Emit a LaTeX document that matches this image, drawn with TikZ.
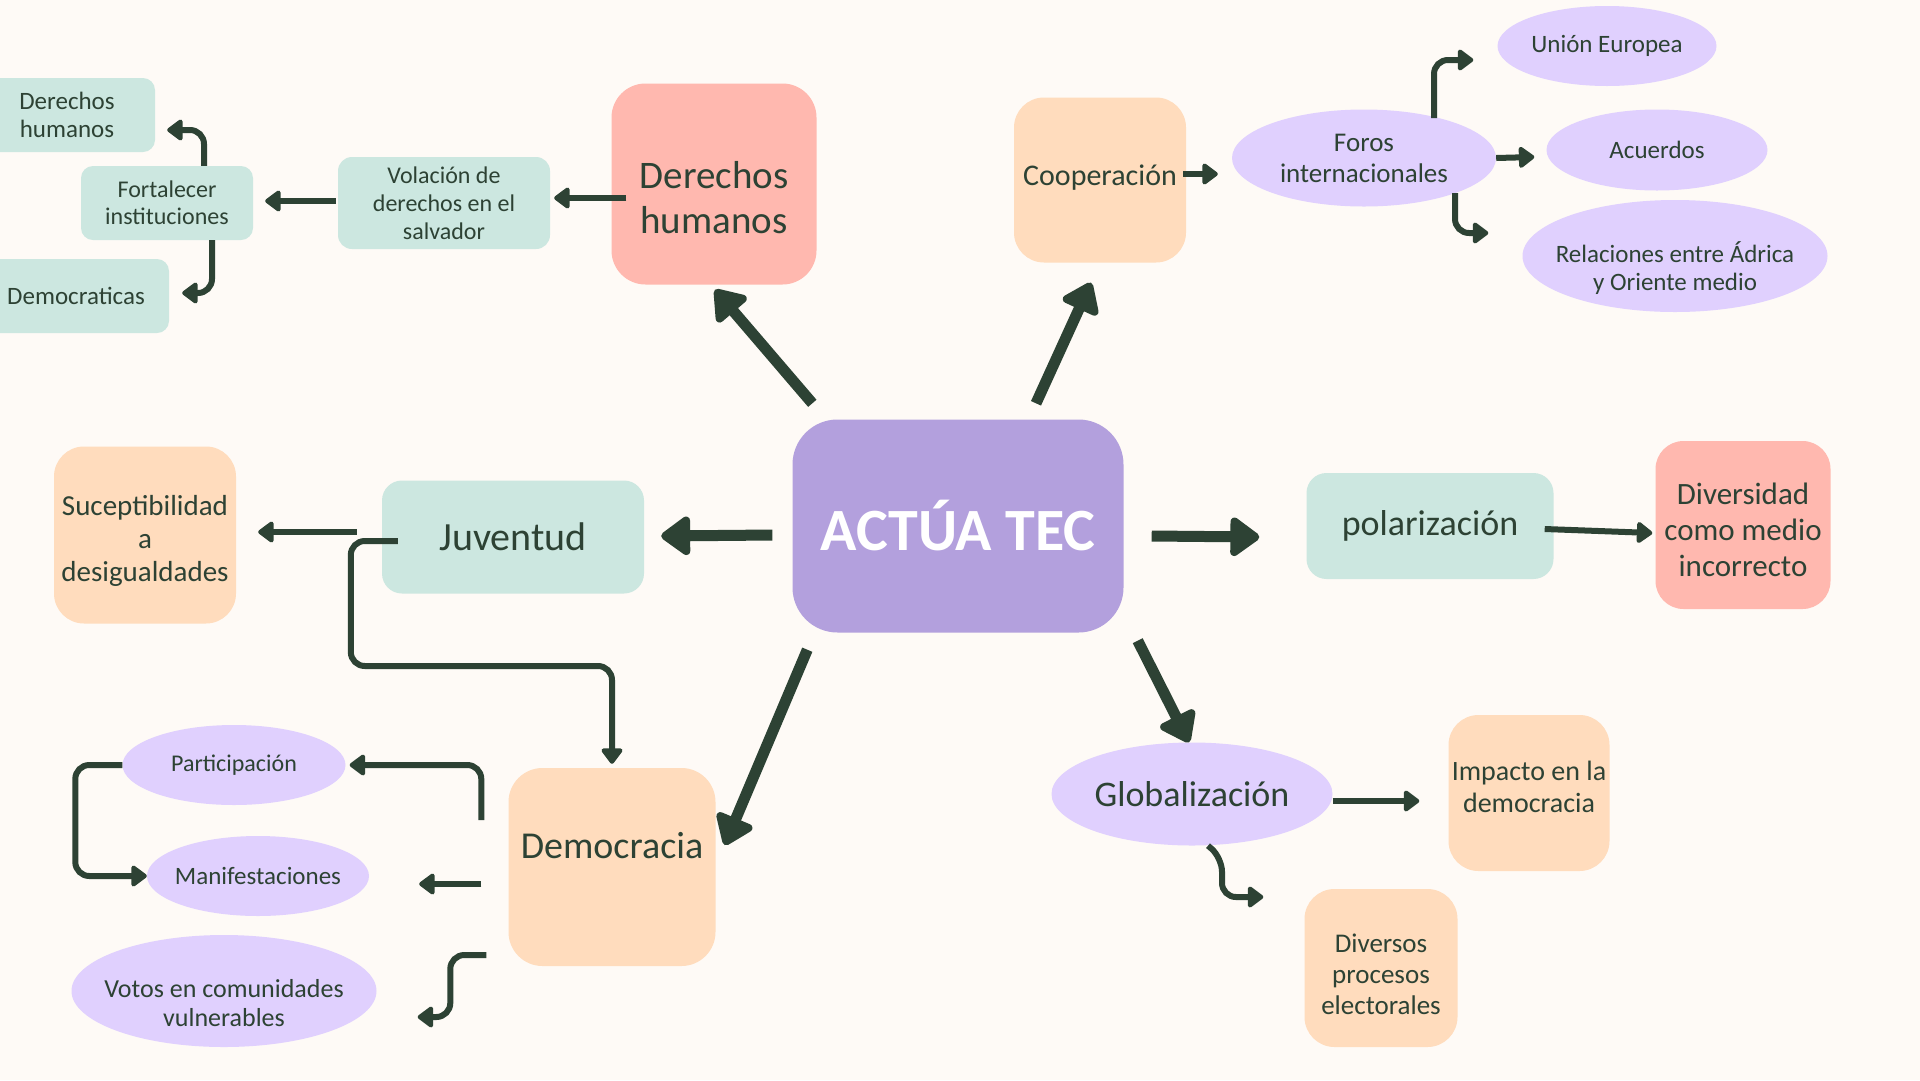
\documentclass[tikz,border=0pt]{standalone}
\usepackage{fontspec}
\setmainfont{Carlito}
\usepackage{xcolor}
\usetikzlibrary{arrows.meta,positioning,calc,shapes.geometric}

\definecolor{bgcream}{HTML}{FEFAF6}
\definecolor{ink}{HTML}{2D4234}
\definecolor{centrepurple}{HTML}{B3A0DD}
\definecolor{lilac}{HTML}{E0D0FE}
\definecolor{salmon}{HTML}{FFB8AF}
\definecolor{peach}{HTML}{FFDCBD}
\definecolor{mint}{HTML}{CCE7E0}

\begin{document}
\begin{tikzpicture}[x=1pt,y=-1pt,
    box/.style={rectangle, rounded corners=26pt, inner sep=0pt, align=center, text=ink},
    blob/.style={ellipse, fill=lilac, inner sep=0pt},
    blobtext/.style={text=ink, align=center},
    txt/.style 2 args={font=\fontsize{#1pt}{#2pt}\selectfont},
    spoke/.style={draw=ink, line width=11pt, -{Triangle[length=32pt,width=44pt,round]}},
    link/.style={draw=ink, line width=6pt, rounded corners=14pt, -{Triangle[length=17pt,width=24pt,round]}}]
    \useasboundingbox (0,0) rectangle (1920,1080);
    \fill[bgcream] (0,0) rectangle (1920,1080);

    % Centre
    \node[box, fill=centrepurple, rounded corners=45pt, minimum width=331pt, minimum height=213pt,
          text=white, txt={60}{66}] (actua) at (958,526) {\bfseries ACTÚA TEC};

    % Derechos humanos
    \node[box, fill=salmon, rounded corners=34pt, minimum width=205pt, minimum height=201pt,
          label={[blobtext, txt={39}{45}, yshift=-14pt]center:Derechos\\humanos}] (derechos) at (714,184) {};
    \node[box, fill=mint, rounded corners=14pt, minimum width=212pt, minimum height=92pt, txt={24}{28}]
        (violacion) at (444,203) {Volación de\\derechos en el\\salvador};
    \node[box, fill=mint, rounded corners=12pt, minimum width=172pt, minimum height=74pt, txt={24}{27}]
        (fortalecer) at (167,203) {Fortalecer\\instituciones};
    \node[box, fill=mint, rounded corners=12pt, minimum width=176pt, minimum height=74pt, txt={25}{28}]
        (dhsmall) at (67,115) {Derechos\\humanos};
    \node[box, fill=mint, rounded corners=12pt, minimum width=186pt, minimum height=74pt, txt={25}{28}]
        (democraticas) at (76,296) {Democraticas};

    % Cooperacion
    \node[box, fill=peach, rounded corners=30pt, minimum width=172pt, minimum height=165pt, txt={30}{34}]
        (cooperacion) at (1100,180) {\raisebox{10pt}{Cooperación}};
    \node[blob, minimum width=264pt, minimum height=97pt,
          label={[blobtext, txt={27}{31}]center:Foros\\internacionales}] (foros) at (1364,158) {};
    \node[blob, minimum width=219pt, minimum height=80pt,
          label={[blobtext, txt={25}{28}]center:Unión Europea}] (union) at (1607,46) {};
    \node[blob, minimum width=221pt, minimum height=81pt,
          label={[blobtext, txt={25}{28}]center:Acuerdos}] (acuerdos) at (1657,150) {};
    \node[blob, minimum width=305pt, minimum height=112pt,
          label={[blobtext, txt={25}{28}, yshift=-12pt]center:Relaciones entre Ádrica\\y Oriente medio}] (relaciones) at (1675,256) {};

    % Juventud
    \node[box, fill=mint, rounded corners=20pt, minimum width=262pt, minimum height=113pt, txt={40}{44}]
        (juventud) at (513,537) {Juventud};
    \node[box, fill=peach, rounded corners=30pt, minimum width=182pt, minimum height=177pt,
          label={[blobtext, txt={29}{33}, yshift=-6pt]center:Suceptibilidad\\a\\desigualdades}] (suceptibilidad) at (145,535) {};

    % Democracia
    \node[box, fill=peach, rounded corners=34pt, minimum width=207pt, minimum height=198pt, txt={38}{42}]
        (democracia) at (612,867) {\raisebox{44pt}{Democracia}};
    \node[blob, minimum width=223pt, minimum height=80pt,
          label={[blobtext, txt={24}{28}]center:Participación}] (participacion) at (234,765) {};
    \node[blob, minimum width=222pt, minimum height=80pt,
          label={[blobtext, txt={25}{28}]center:Manifestaciones}] (manifestaciones) at (258,876) {};
    \node[blob, minimum width=305pt, minimum height=112pt,
          label={[blobtext, txt={26}{29}, yshift=-12pt]center:Votos en comunidades\\vulnerables}] (votos) at (224,991) {};

    % Polarizacion
    \node[box, fill=mint, rounded corners=20pt, minimum width=247pt, minimum height=106pt, txt={36}{40}]
        (polarizacion) at (1430,526) {polarización};
    \node[box, fill=salmon, rounded corners=28pt, minimum width=175pt, minimum height=168pt,
          label={[blobtext, txt={31}{36}, yshift=-5pt]center:Diversidad\\como medio\\incorrecto}] (diversidad) at (1743,525) {};

    % Globalizacion
    \node[blob, minimum width=281pt, minimum height=103pt,
          label={[blobtext, txt={36}{40}]center:Globalización}] (globalizacion) at (1192,794) {};
    \node[box, fill=peach, rounded corners=30pt, minimum width=161pt, minimum height=156pt,
          label={[blobtext, txt={28}{32}, yshift=6pt]center:Impacto en la\\democracia}] (impacto) at (1529,793) {};
    \node[box, fill=peach, rounded corners=30pt, minimum width=153pt, minimum height=158pt,
          label={[blobtext, txt={27}{31}, yshift=-6pt]center:Diversos\\procesos\\electorales}] (diversos) at (1381,968) {};

    % Spokes from the centre
    \draw[spoke] ($(actua.north west)+(20,-16)$) -- ($(derechos.south)+(1,5)$);
    \draw[spoke] ($(actua.north)+(78,-16)$) -- ($(cooperacion.south)+(-9,20)$);
    \draw[spoke] ($(actua.west)+(-20,9)$) -- ($(juventud.east)+(17,-1)$);
    \draw[spoke] ($(actua.east)+(28,10)$) -- ($(polarizacion.west)+(-47,11)$);
    \draw[spoke] ($(actua.south west)+(15,17)$) -- ($(democracia.east)+(9,-22)$);
    \draw[spoke] ($(actua.south east)+(14,8)$) -- ($(globalizacion.north)+(-3,0)$);

    % Branch links
    \draw[link] ($(derechos.west)+(15,14)$) -- ($(violacion.east)+(4,-5)$);
    \draw[link] ($(violacion.west)+(-2,-2)$) -- ($(fortalecer.east)+(12,-2)$);
    \draw[link] ($(fortalecer.north)+(37,0)$) |- ($(dhsmall.east)+(12,15)$);
    \draw[link] ($(fortalecer.south)+(45,0)$) |- ($(democraticas.east)+(13,-3)$);
    \draw[link] ($(cooperacion.east)+(-3,-6)$) -- ($(foros.west)+(-14,16)$);
    \draw[link] ($(foros.center)+(70,-40)$) |- ($(union.west)+(-24,14)$);
    \draw[link] (foros.east) -- ($(acuerdos.west)+(-12,7)$);
    \draw[link] ($(foros.center)+(91,35)$) |- ($(relaciones.west)+(-34,-23)$);
    \draw[link] ($(juventud.west)+(-25,-5)$) -- ($(suceptibilidad.east)+(22,-3)$);
    \draw[link] ($(juventud.west)+(16,4)$) -- ++(-47,0) -- ++(0,125) -| ($(democracia.north)+(0,-4)$);
    \draw[link] ($(democracia.west)+(-27,-47)$) |- ($(participacion.east)+(4,0)$);
    \draw[link] ($(democracia.west)+(-27,17)$) -- ($(manifestaciones.east)+(50,8)$);
    \draw[link] ($(democracia.west)+(-22,88)$) -- ++(-36,0) |- ($(votos.east)+(41,26)$);
    \draw[link] (participacion.west) -- ++(-47,0) |- (manifestaciones.west);
    \draw[link] ($(polarizacion.east)+(-9,3)$) -- ($(diversidad.west)+(-3,8)$);
    \draw[link] ($(globalizacion.east)+(0,7)$) -- ($(impacto.west)+(-29,8)$);
    \draw[link] ($(globalizacion.south)+(16,0)$) -- ++(14,12) |- ($(diversos.west)+(-41,-71)$);
\end{tikzpicture}
\end{document}
